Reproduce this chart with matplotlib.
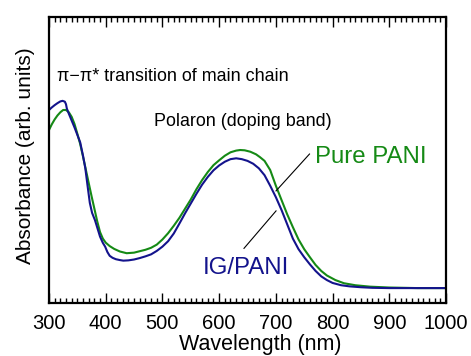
import matplotlib
matplotlib.use('Agg')
import matplotlib.pyplot as plt
from matplotlib.ticker import MultipleLocator

plt.rcParams['font.family'] = ['Liberation Sans', 'DejaVu Sans']

# IG/PANI (blue)
wl_ig = [300, 305, 310, 315, 320, 324, 328, 330, 331.5, 335, 340, 345, 350, 355,
         360, 364, 368, 372, 376, 381, 386, 390, 395, 399, 403, 407, 412, 418,
         425, 431, 440, 450, 460, 470, 480, 490, 500, 510, 520, 530, 540, 550,
         560, 570, 580, 590, 600, 610, 620, 630, 640, 650, 660, 670, 680, 690,
         700, 710, 720, 730, 740, 750, 760, 770, 780, 790, 800, 815, 830, 850,
         870, 900, 950, 1000]
abs_ig = [0.675, 0.684, 0.692, 0.699, 0.705, 0.707, 0.704, 0.695, 0.680, 0.662,
          0.638, 0.614, 0.588, 0.562, 0.515, 0.472, 0.410, 0.350, 0.315, 0.290,
          0.258, 0.232, 0.210, 0.197, 0.178, 0.165, 0.158, 0.153, 0.150, 0.148,
          0.149, 0.152, 0.157, 0.163, 0.170, 0.182, 0.197, 0.216, 0.243, 0.278,
          0.314, 0.348, 0.382, 0.414, 0.441, 0.464, 0.481, 0.494, 0.503, 0.506,
          0.503, 0.497, 0.487, 0.471, 0.447, 0.410, 0.370, 0.325, 0.275, 0.225,
          0.188, 0.160, 0.135, 0.112, 0.093, 0.080, 0.070, 0.062, 0.058, 0.055,
          0.053, 0.052, 0.052, 0.052]

# Pure PANI (green)
wl_pani = [300, 305, 310, 315, 320, 325, 330, 335, 340, 345, 350, 355, 360, 365,
           370, 375, 380, 385, 390, 395, 400, 407, 415, 425, 437, 450, 460, 470,
           480, 490, 500, 510, 520, 530, 540, 550, 560, 570, 580, 590, 600, 610,
           620, 630, 637, 645, 655, 665, 672, 680, 690, 700, 710, 720, 730, 740,
           750, 760, 770, 780, 790, 805, 820, 840, 866, 900, 950, 1000]
abs_pani = [0.605, 0.625, 0.642, 0.656, 0.667, 0.675, 0.675, 0.667, 0.651, 0.626,
            0.592, 0.556, 0.512, 0.466, 0.420, 0.374, 0.330, 0.286, 0.248, 0.225,
            0.211, 0.199, 0.189, 0.180, 0.174, 0.176, 0.181, 0.186, 0.193, 0.204,
            0.222, 0.244, 0.270, 0.298, 0.330, 0.362, 0.398, 0.430, 0.458, 0.482,
            0.499, 0.515, 0.527, 0.533, 0.535, 0.534, 0.529, 0.520, 0.510, 0.497,
            0.465, 0.410, 0.360, 0.310, 0.265, 0.222, 0.188, 0.160, 0.133, 0.112,
            0.096, 0.080, 0.069, 0.062, 0.057, 0.054, 0.052, 0.052]

blue = '#13138c'
green = '#158a15'

fig = plt.figure(figsize=(4.71, 3.56), dpi=100)
ax = fig.add_axes([0.104, 0.149, 0.843, 0.803])

ax.plot(wl_pani, abs_pani, color=green, lw=1.5)
ax.plot(wl_ig, abs_ig, color=blue, lw=1.5)

ax.set_xlim(300, 1000)
ax.set_ylim(0, 1)

ax.xaxis.set_major_locator(MultipleLocator(100))
ax.xaxis.set_minor_locator(MultipleLocator(10))
ax.set_yticks([])
ax.tick_params(axis='x', which='both', direction='in', top=True, bottom=True,
               labelsize=14.5, pad=8, color='black')
ax.tick_params(axis='x', which='major', length=7, width=1.0)
ax.tick_params(axis='x', which='minor', length=3.5, width=1.0)
for s in ax.spines.values():
    s.set_linewidth(1.6)

ax.set_xlabel('Wavelength (nm)', fontsize=15.5)
ax.xaxis.set_label_coords(0.531, -0.108)
ax.set_ylabel('Absorbance (arb. units)', fontsize=15)
ax.yaxis.set_label_coords(-0.035, 0.514)

ax.text(313.6, 0.776, '\u03c0\u2212\u03c0* transition of main chain',
        fontsize=12.9, ha='left', va='baseline')
ax.text(485, 0.619, 'Polaron (doping band)', fontsize=12.9, ha='left', va='baseline')

ax.text(769, 0.4895, 'Pure PANI', color=green, fontsize=17.3, ha='left', va='baseline')
ax.plot([759.3, 700.3], [0.521, 0.392], color='black', lw=0.8)
ax.text(571, 0.1014, 'IG/PANI', color=blue, fontsize=17.3, ha='left', va='baseline')
ax.plot([700.3, 643.8], [0.322, 0.191], color='black', lw=0.8)

fig.savefig('out.png', dpi=100)
